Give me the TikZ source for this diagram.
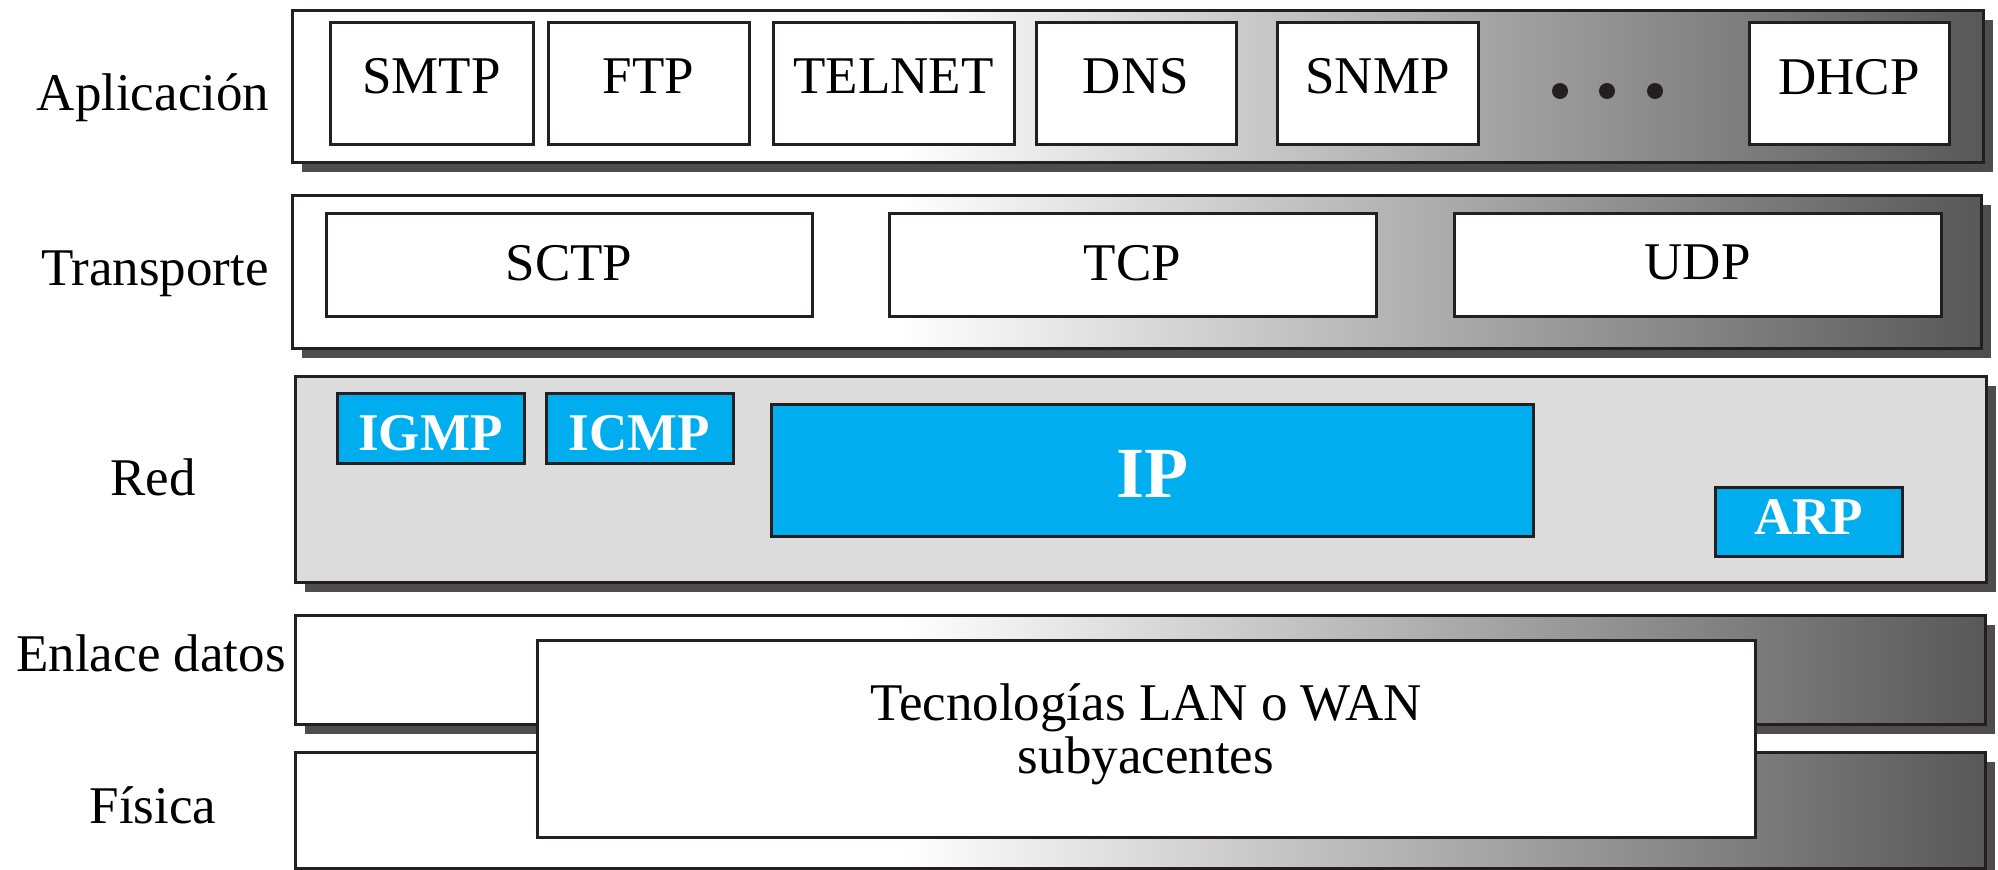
\documentclass[tikz,border=0pt]{standalone}
\usepackage{fontspec}
\setmainfont{Liberation Serif}
\usetikzlibrary{shadows}
\definecolor{edge}{RGB}{35,31,32}
\definecolor{shadowc}{RGB}{78,76,77}
\definecolor{gradend}{RGB}{88,88,88}
\definecolor{netgray}{RGB}{220,220,220}
\definecolor{ipblue}{RGB}{0,174,239}
\pgfdeclarehorizontalshading{layergrad}{100bp}{color(0bp)=(white); color(43bp)=(white); color(75bp)=(gradend); color(100bp)=(gradend)}
\tikzset{
  base/.style={inner sep=0pt, outer sep=0pt, line width=3pt, draw=edge},
  layer/.style={base, shading=layergrad,
    drop shadow={shadow xshift=10pt, shadow yshift=-10pt, fill=shadowc, opacity=1}},
  netlayer/.style={base, fill=netgray,
    drop shadow={shadow xshift=10pt, shadow yshift=-10pt, fill=shadowc, opacity=1}},
  protobox/.style={base, fill=white},
  bluebox/.style={base, fill=ipblue},
  txt/.style={inner sep=0pt, anchor=base, text=black, font=\fontsize{53}{56}\selectfont},
  wtxt/.style={inner sep=0pt, anchor=base, text=white, font=\fontsize{53}{56}\selectfont\bfseries},
}
\begin{document}
\begin{tikzpicture}[x=1pt, y=-1pt]
\useasboundingbox (0,0) rectangle (1998,870);
% Application layer
\node[layer, minimum width=1691pt, minimum height=152pt] (app) at (1137.5,86) {};
\node[protobox, minimum width=203pt, minimum height=122pt] (smtp) at (431.5,83) {};
\node[protobox, minimum width=201pt, minimum height=122pt] (ftp) at (648.5,83) {};
\node[protobox, minimum width=241pt, minimum height=122pt] (telnet) at (893.5,83) {};
\node[protobox, minimum width=200pt, minimum height=122pt] (dns) at (1136,83) {};
\node[protobox, minimum width=201pt, minimum height=122pt] (snmp) at (1377.5,83) {};
\node[protobox, minimum width=200pt, minimum height=122pt] (dhcp) at (1849,83) {};
\node[txt] (smtpT) at (431.5,93) {SMTP};
\node[txt] (ftpT) at (648.5,93) {FTP};
\node[txt] (telnetT) at (893.5,93) {TELNET};
\node[txt] (dnsT) at (1136,93) {DNS};
\node[txt] (snmpT) at (1377.5,93) {SNMP};
\node[txt] (dhcpT) at (1849,94) {DHCP};
\fill[edge] (1560,91) circle[radius=8pt] (1607,91) circle[radius=8pt] (1655,91) circle[radius=8pt];
% Transport layer
\node[layer, minimum width=1689pt, minimum height=153pt] (trans) at (1136.5,271.5) {};
\node[protobox, minimum width=486pt, minimum height=103pt] (sctp) at (569,264.5) {};
\node[protobox, minimum width=487pt, minimum height=103pt] (tcp) at (1132.5,264.5) {};
\node[protobox, minimum width=487pt, minimum height=103pt] (udp) at (1697.5,264.5) {};
\node[txt] (sctpT) at (569,280) {SCTP};
\node[txt] (tcpT) at (1132.5,280) {TCP};
\node[txt] (udpT) at (1697.5,279) {UDP};
% Network layer
\node[netlayer, minimum width=1691pt, minimum height=206pt] (net) at (1140.5,479) {};
\node[bluebox, minimum width=187pt, minimum height=70pt] (igmp) at (430.5,428) {};
\node[bluebox, minimum width=187pt, minimum height=70pt] (icmp) at (639.5,428) {};
\node[bluebox, minimum width=762pt, minimum height=132pt] (ip) at (1152,470) {};
\node[bluebox, minimum width=187pt, minimum height=69pt] (arp) at (1808.5,521.5) {};
\node[wtxt] (igmpT) at (430.5,450) {IGMP};
\node[wtxt] (icmpT) at (639.5,450) {ICMP};
\node[wtxt, font=\fontsize{72}{76}\selectfont\bfseries] (ipT) at (1152,497) {IP};
\node[wtxt] (arpT) at (1808.5,534) {ARP};
% Data link and physical layers
\node[layer, minimum width=1690pt, minimum height=109pt] (link) at (1140,669.5) {};
\node[layer, minimum width=1690pt, minimum height=116pt] (phys) at (1140,810) {};
\node[protobox, minimum width=1218pt, minimum height=197pt] (tec) at (1146,738.5) {};
\node[txt] (tec1) at (1146,720) {Tecnologías LAN o WAN};
\node[txt] (tec2) at (1146,773) {subyacentes};
% Layer labels
\node[txt] (lapp) at (153,110) {Aplicación};
\node[txt] (ltrans) at (155,285) {Transporte};
\node[txt] (lnet) at (153,495) {Red};
\node[txt] (llink) at (151,671) {Enlace datos};
\node[txt] (lphys) at (153,823) {Física};
\end{tikzpicture}
\end{document}
